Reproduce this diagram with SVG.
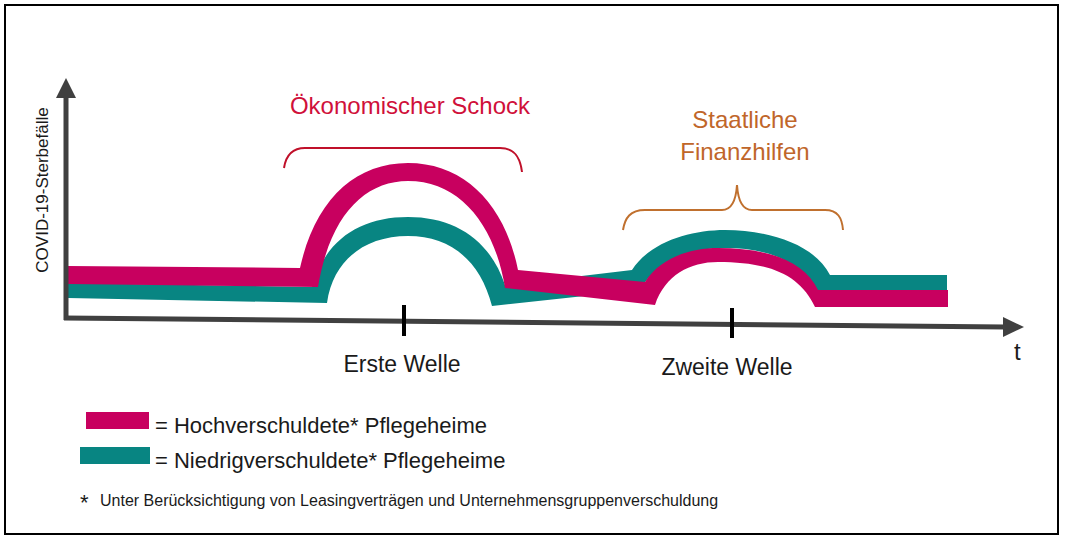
<svg xmlns="http://www.w3.org/2000/svg" width="1066" height="548" viewBox="0 0 1066 548">
<style>
.t{font-family:"Liberation Sans",Arial,sans-serif;fill:#1a1a1a}
.pk{fill:#c8005f}
.tl{fill:#088582}
.ax{stroke:#404040;stroke-width:5;fill:none}
</style>
<rect x="0" y="0" width="1066" height="548" fill="#fff"/>
<rect x="5" y="5" width="1053" height="529" fill="none" stroke="#000" stroke-width="2"/>
<g id="teal">
<path class="tl" d="M68,283 L312,287 C325,240 360,217 408,217 C455,217 490,240 505,285 L632,270 C650,242 690,230 725,230 C770,230 815,245 830,275 L947,275 L947,290 L815,290 C800,262 770,248 725,248 C690,248 655,262 640,290 L492,306 C480,260 450,236 408,236 C365,236 333,260 327,303 L68,298 Z"/>
</g>
<g id="pink">
<path class="pk" d="M68,266 L300,268 C315,200 355,163 408,163 C465,163 505,205 518,270 L645,282 C660,258 690,248 718,248 C770,248 805,262 818,290 L948,290 L948,307 L815,307 C800,275 770,262 718,262 C690,262 665,275 655,305 L505,288 C495,225 460,181 408,181 C365,181 330,215 318,287 L68,284 Z"/>
</g>
<g id="axes">
<line class="ax" x1="66" y1="320" x2="66" y2="95"/>
<polygon points="66,78 56,98 76,98" fill="#404040"/>
<line class="ax" x1="64" y1="318" x2="1005" y2="327"/>
<polygon points="1024,327 1003,317 1003,337" fill="#404040"/>
<line x1="404" y1="305" x2="404" y2="336" stroke="#000" stroke-width="4"/>
<line x1="732" y1="308" x2="732" y2="338" stroke="#000" stroke-width="4"/>
</g>
<g id="braces" fill="none" stroke-width="2">
<path stroke="#c0102a" d="M284,168 C286,155 292,148 305,148 L500,148 C513,148 520,155 522,172"/>
<path stroke="#c0702e" d="M623,230 C625,218 630,210 645,210 L722,210 C732,210 736,200 737,185 C738,200 742,210 752,210 L825,210 C838,210 842,218 843,230"/>
</g>
<text class="t" x="410" y="114" font-size="24" text-anchor="middle" style="fill:#d0103a">Ökonomischer Schock</text>
<text class="t" x="745" y="128" font-size="24" text-anchor="middle" style="fill:#c0662a">Staatliche</text>
<text class="t" x="745" y="160" font-size="24" text-anchor="middle" style="fill:#c0662a">Finanzhilfen</text>
<text class="t" x="48" y="190" font-size="17" text-anchor="middle" transform="rotate(-90 48 190)">COVID-19-Sterbefälle</text>
<text class="t" x="1014" y="360" font-size="24">t</text>
<text class="t" x="402" y="372" font-size="23" text-anchor="middle">Erste Welle</text>
<text class="t" x="727" y="375" font-size="23" text-anchor="middle">Zweite Welle</text>
<g id="legend">
<rect class="pk" x="86" y="412" width="63" height="17"/>
<text class="t" x="155" y="433" font-size="22">= Hochverschuldete* Pflegeheime</text>
<rect class="tl" x="80" y="447" width="70" height="17"/>
<text class="t" x="155" y="468" font-size="22">= Niedrigverschuldete* Pflegeheime</text>
<text class="t" x="80" y="510" font-size="22">*</text>
<text class="t" x="100" y="506" font-size="16">Unter Berücksichtigung von Leasingverträgen und Unternehmensgruppenverschuldung</text>
</g>
</svg>
